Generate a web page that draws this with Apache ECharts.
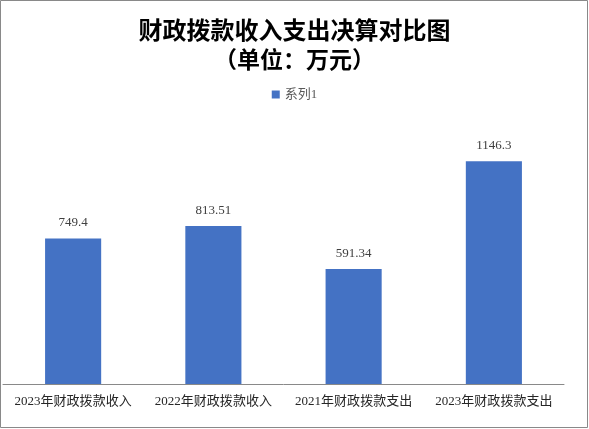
<!DOCTYPE html>
<html>
<head>
<meta charset="utf-8">
<script src="https://cdn.jsdelivr.net/npm/echarts@6/dist/echarts.min.js"></script>
<style>
html,body{margin:0;padding:0;background:#fff;}
#c{width:589px;height:429px;}
</style>
</head>
<body>
<div id="c"></div>
<script>
var categories = ['2023年财政拨款收入', '2022年财政拨款收入', '2021年财政拨款支出', '2023年财政拨款支出'];
var values = [749.4, 813.51, 591.34, 1146.3];
var seriesName = '系列1';
var titleLine1 = '财政拨款收入支出决算对比图';
var titleLine2 = '（单位：万元）';

var serif = "'Liberation Serif', 'DejaVu Serif', 'Noto Sans CJK SC', serif";
var chart = echarts.init(document.getElementById('c'));
chart.setOption({
  animation: false,
  backgroundColor: '#fff',
  title: [
    { text: titleLine1, left: 'center', top: 10,
      textStyle: { fontFamily: "'Noto Sans CJK SC', sans-serif", fontSize: 24, fontWeight: 'bold', color: '#000', lineHeight: 30 } },
    { text: titleLine2, left: 'center', top: 39,
      textStyle: { fontFamily: "'Noto Sans CJK SC', sans-serif", fontSize: 23, fontWeight: 'bold', color: '#000', lineHeight: 30 } }
  ],
  legend: {
    data: [seriesName], left: 'center', top: 83,
    icon: 'rect', itemWidth: 8, itemHeight: 8, itemGap: 10,
    textStyle: { fontFamily: serif, fontSize: 13, color: '#595959' }
  },
  graphic: [{
    type: 'rect', silent: true, z: 100,
    shape: { x: 0.5, y: 0.5, width: 587, height: 427 },
    style: { fill: 'none', stroke: '#898989', lineWidth: 1 }
  }],
  grid: { left: 3, right: 25, top: 112, bottom: 45, containLabel: false },
  xAxis: {
    type: 'category', data: categories,
    axisLine: { lineStyle: { color: '#898989', width: 1 } },
    axisTick: { show: false },
    axisLabel: { fontFamily: serif, fontSize: 13, color: '#262626', margin: 11, interval: 0 }
  },
  yAxis: {
    type: 'value', min: 0, max: 1400, show: false,
    splitLine: { show: false }
  },
  series: [{
    name: seriesName, type: 'bar', data: values, barWidth: '40%',
    itemStyle: { color: '#4472C4' },
    label: { show: true, position: 'top', distance: 9, fontFamily: serif, fontSize: 13, color: '#404040' }
  }]
});
</script>
</body>
</html>
